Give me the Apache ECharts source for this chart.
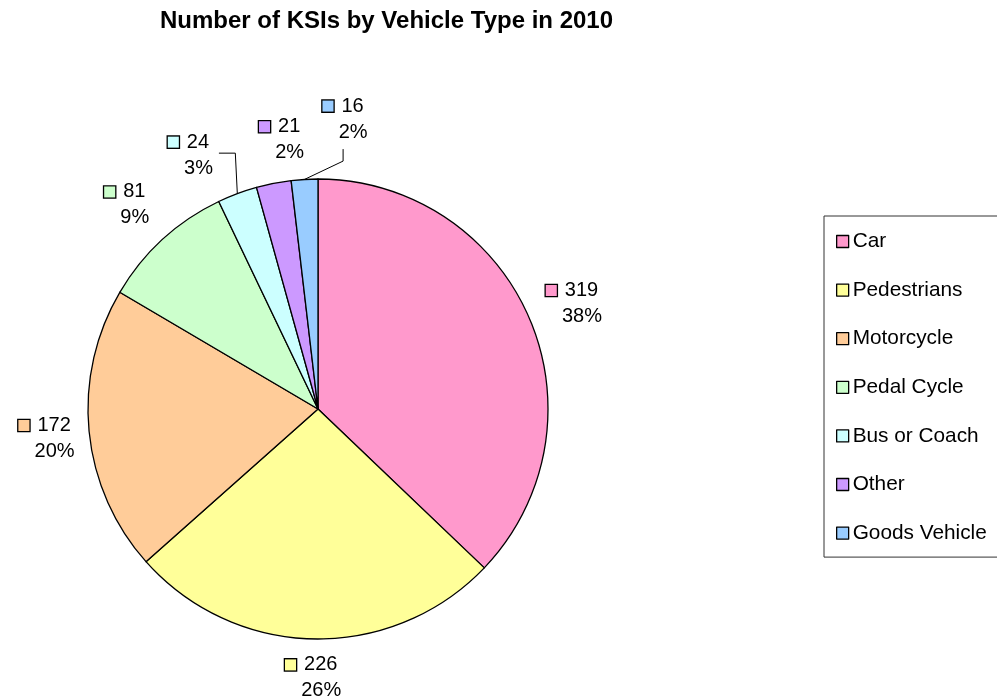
<!DOCTYPE html>
<html>
<head>
<meta charset="utf-8">
<script src="https://cdn.jsdelivr.net/npm/echarts@6/dist/echarts.min.js"></script>
<style>html,body{margin:0;padding:0;background:#fff}#c{width:997px;height:700px}</style>
</head>
<body>
<div id="c"></div>
<script>
const titleText = 'Number of KSIs by Vehicle Type in 2010';
const categories = ['Car', 'Pedestrians', 'Motorcycle', 'Pedal Cycle', 'Bus or Coach', 'Other', 'Goods Vehicle'];
const values = [319, 226, 172, 81, 24, 21, 16];
const percentLabels = ['38%', '26%', '20%', '9%', '3%', '2%', '2%'];
const colors = ['#FF99CC', '#FFFF99', '#FFCC99', '#CCFFCC', '#CCFFFF', '#CC99FF', '#99CCFF'];

// layout / style settings
const CX = 318, CY = 409, R = 230;
const labelAngleShift = [0.6, 0.4, -0.6, -0.9, -6.5, 3.0, 8.3];
const labelGap = [45, 39, 45, 51, 55, 42, 61];
const showLine = [false, false, false, false, true, false, true];
const FONT = '"Liberation Sans", Arial, sans-serif';

const total = values.reduce((a, b) => a + b, 0);
const midAngles = [];
let acc = 0;
values.forEach(v => { const span = v / total * 360; midAngles.push(acc + span / 2); acc += span; });

function polar(angleDeg, dist) {
  const a = angleDeg * Math.PI / 180;
  return [CX + dist * Math.sin(a), CY - dist * Math.cos(a)];
}

const richStyles = { ind: { width: 20, fontSize: 20 }, sp: { width: 8, fontSize: 20 } };
colors.forEach((c, i) => {
  richStyles['b' + i] = { width: 11, height: 11, backgroundColor: c, borderColor: '#000', borderWidth: 1.3 };
});

const chart = echarts.init(document.getElementById('c'));
chart.setOption({
  animation: false,
  backgroundColor: '#fff',
  title: {
    text: titleText,
    left: 155, top: 4,
    textStyle: { fontFamily: FONT, fontSize: 24, fontWeight: 'bold', color: '#000' }
  },
  legend: {
    orient: 'vertical',
    left: 824, top: 216,
    data: categories,
    icon: 'rect',
    itemWidth: 12, itemHeight: 12,
    itemGap: 24.6,
    padding: [13.5, 20, 12, 12],
    borderColor: '#333', borderWidth: 1,
    itemStyle: { borderColor: '#000', borderWidth: 1.3 },
    textStyle: { fontFamily: FONT, fontSize: 20.8, color: '#000', lineHeight: 24, padding: [0, 0, 0, -1] }
  },
  series: [{
    type: 'pie',
    center: [CX, CY],
    radius: [0, R],
    startAngle: 90,
    clockwise: true,
    avoidLabelOverlap: false,
    itemStyle: { borderColor: '#000', borderWidth: 1.3 },
    emphasis: { disabled: true },
    label: {
      show: true,
      position: 'outside',
      fontFamily: FONT, fontSize: 20, color: '#000', lineHeight: 26,
      align: 'center',
      formatter: p => '{b' + p.dataIndex + '|}{sp|}' + p.value + '\n{ind|}' + percentLabels[p.dataIndex],
      rich: richStyles
    },
    labelLine: { show: false, lineStyle: { color: '#000', width: 1 }, smooth: false },
    labelLayout: function (p) {
      const i = p.dataIndex;
      const ang = midAngles[i] + labelAngleShift[i];
      const pos = polar(ang, R + labelGap[i]);
      const w = p.labelRect.width, h = p.labelRect.height;
      const res = { x: pos[0], y: pos[1], align: 'center', verticalAlign: 'middle' };
      if (showLine[i]) {
        const end = polar(midAngles[i], R);
        if (i === 4) {
          const sx = pos[0] + w / 2 + 6, sy = pos[1] - 2;
          res.labelLinePoints = [[sx, sy], [end[0] - 2, sy], end];
        } else {
          const sx = pos[0], sy = pos[1] + h / 2 + 4;
          res.labelLinePoints = [[sx, sy], [sx, sy + 12], end];
        }
      }
      return res;
    },
    data: categories.map((n, i) => ({
      name: n, value: values[i],
      itemStyle: { color: colors[i] },
      labelLine: { show: showLine[i] }
    }))
  }]
});
</script>
</body>
</html>
